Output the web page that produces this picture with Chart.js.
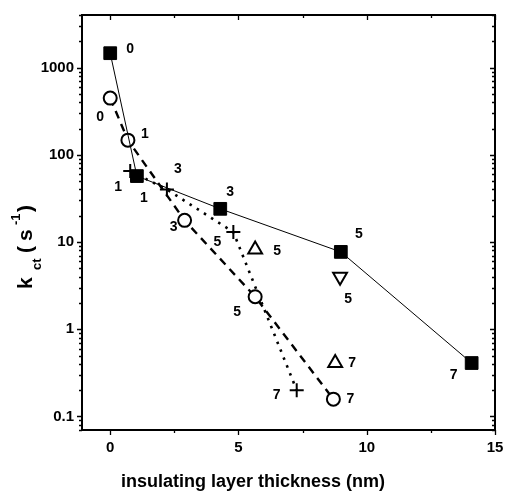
<!DOCTYPE html>
<html>
<head>
<meta charset="utf-8">
<script src="https://cdn.jsdelivr.net/npm/chart.js@4.4.1/dist/chart.umd.min.js"></script>
<style>
  html, body { margin: 0; padding: 0; background: #fff; }
  #wrap { width: 505px; height: 494px; }
</style>
</head>
<body>
<div id="wrap"><canvas id="chart" width="505" height="494"></canvas></div>
<script>
// layer counts and rate constants
const xSquare = [0, 1.04, 4.29, 8.99, 14.09];
const kSquare = [1460, 57, 24, 7.7, 0.41];
const nSquare = ['0', '1', '3', '5', '7'];

const xCircle = [0, 0.69, 2.9, 5.65, 8.7];
const kCircle = [446, 147, 17.7, 2.36, 0.158];
const nCircle = ['0', '1', '3', '5', '7'];

const xPlus = [0.78, 2.21, 4.8, 7.27];
const kPlus = [65, 40, 13, 0.2];
const nPlus = ['1', '3', '5', '7'];

const xTriUp = [5.65, 8.77];
const kTriUp = [8.2, 0.41];
const nTriUp = ['5', '7'];

const xTriDown = [8.96];
const kTriDown = [4.0];
const nTriDown = ['5'];

const xTicks = [0, 5, 10, 15];
const xMinor = [2.5, 7.5, 12.5];
const yTicks = [0.1, 1, 10, 100, 1000];

const FONT = '"Liberation Sans", Arial, Helvetica, sans-serif';

function pts(xs, ys) {
  return xs.map((x, i) => ({ x: x, y: ys[i] }));
}

// label offsets in px from each marker
const labelOffsets = [
  [[20, -4], [7, 22], [10, -17], [18, -18], [-18, 12]],
  [[-10, 19], [17, -6], [-11, 7], [-18, 15], [17, 0]],
  [[-12, 16], [11, -20], [-16, 10], [-20, 5]],
  [[22, 2], [17, 0]],
  [[8, 22]]
];
const labelTexts = [nSquare, nCircle, nPlus, nTriUp, nTriDown];

const decor = {
  id: 'decor',
  afterDraw(chart) {
    const ctx = chart.ctx;
    const a = chart.chartArea;
    const xs = chart.scales.x, ys = chart.scales.y;
    ctx.save();
    ctx.strokeStyle = '#000';
    ctx.lineWidth = 2;
    ctx.strokeRect(a.left, a.top, a.right - a.left, a.bottom - a.top);

    // y ticks, left outward, right inward
    ctx.lineWidth = 1.3;
    ctx.beginPath();
    for (let d = -2; d <= 4; d++) {
      for (let m = 1; m <= 9; m++) {
        const v = m * Math.pow(10, d);
        if (v < ys.min || v > ys.max) continue;
        const py = Math.round(ys.getPixelForValue(v)) + 0.5;
        const len = m === 1 ? 5 : 3;
        ctx.moveTo(a.left - len, py); ctx.lineTo(a.left, py);
        ctx.moveTo(a.right - len, py); ctx.lineTo(a.right, py);
      }
    }
    // x ticks, bottom outward, top inward
    xTicks.concat(xMinor).forEach(v => {
      const px = Math.round(xs.getPixelForValue(v)) + 0.5;
      const len = xTicks.includes(v) ? 5 : 3;
      ctx.moveTo(px, a.bottom); ctx.lineTo(px, a.bottom + len);
      ctx.moveTo(px, a.top); ctx.lineTo(px, a.top + len);
    });
    ctx.stroke();

    // layer-count labels beside the markers
    ctx.fillStyle = '#000';
    ctx.font = 'bold 14px ' + FONT;
    ctx.textAlign = 'center';
    ctx.textBaseline = 'middle';
    chart.data.datasets.forEach((ds, di) => {
      const meta = chart.getDatasetMeta(di);
      meta.data.forEach((el, i) => {
        const off = labelOffsets[di][i];
        ctx.fillText(labelTexts[di][i], el.x + off[0], el.y + off[1]);
      });
    });

    // x title
    ctx.font = 'bold 18px ' + FONT;
    ctx.textBaseline = 'alphabetic';
    ctx.fillText('insulating layer thickness (nm)', 253, 487);

    // y title: k_ct (s^-1)
    ctx.translate(32, 290);
    ctx.rotate(-Math.PI / 2);
    ctx.textAlign = 'left';
    ctx.font = 'bold 21px ' + FONT;
    ctx.fillText('k', 1, 0);
    ctx.font = 'bold 13px ' + FONT;
    ctx.fillText('ct', 20, 9);
    ctx.font = 'bold 21px ' + FONT;
    ctx.fillText('(', 37, 0);
    ctx.fillText('s', 49, 0);
    ctx.font = 'bold 13px ' + FONT;
    ctx.fillText('-1', 65, -12);
    ctx.font = 'bold 21px ' + FONT;
    ctx.fillText(')', 78, 0);
    ctx.restore();
  }
};

new Chart(document.getElementById('chart'), {
  type: 'scatter',
  data: {
    datasets: [
      {
        data: pts(xSquare, kSquare),
        showLine: true,
        borderColor: '#000',
        borderWidth: 1,
        pointStyle: 'rect',
        pointRadius: 9,
        pointBackgroundColor: '#000',
        pointBorderColor: '#000',
        pointBorderWidth: 1
      },
      {
        data: pts(xCircle, kCircle),
        showLine: true,
        borderColor: '#000',
        borderWidth: 2.4,
        borderDash: [8, 6],
        pointStyle: 'circle',
        pointRadius: 6.5,
        pointBackgroundColor: '#fff',
        pointBorderColor: '#000',
        pointBorderWidth: 2
      },
      {
        data: pts(xPlus, kPlus),
        showLine: true,
        borderColor: '#000',
        borderWidth: 2.6,
        borderDash: [2.5, 6],
        pointStyle: 'cross',
        pointRadius: 7,
        pointBorderColor: '#000',
        pointBorderWidth: 2
      },
      {
        data: pts(xTriUp, kTriUp),
        pointStyle: 'triangle',
        pointRadius: 8,
        pointBackgroundColor: '#fff',
        pointBorderColor: '#000',
        pointBorderWidth: 2
      },
      {
        data: pts(xTriDown, kTriDown),
        pointStyle: 'triangle',
        rotation: 180,
        pointRadius: 8,
        pointBackgroundColor: '#fff',
        pointBorderColor: '#000',
        pointBorderWidth: 2
      }
    ]
  },
  options: {
    responsive: false,
    animation: false,
    layout: { padding: { top: 15, right: 10, left: 0, bottom: 0 } },
    plugins: { legend: { display: false }, tooltip: { enabled: false } },
    scales: {
      x: {
        type: 'linear',
        min: -1.1,
        max: 15,
        afterBuildTicks: s => { s.ticks = xTicks.map(v => ({ value: v })); },
        afterFit: s => { s.height = 64; s.paddingLeft = 0; s.paddingRight = 0; },
        grid: { display: false, drawTicks: false },
        border: { display: false },
        ticks: { color: '#000', padding: 9, font: { family: FONT, size: 15, weight: 'bold' } }
      },
      y: {
        type: 'logarithmic',
        min: 0.07,
        max: 4000,
        afterBuildTicks: s => { s.ticks = yTicks.map(v => ({ value: v })); },
        afterFit: s => { s.width = 82; s.paddingTop = 0; s.paddingBottom = 0; },
        grid: { display: false, drawTicks: false },
        border: { display: false },
        ticks: {
          color: '#000',
          padding: 8,
          font: { family: FONT, size: 15, weight: 'bold' },
          callback: v => String(v)
        }
      }
    }
  },
  plugins: [decor]
});
</script>
</body>
</html>
